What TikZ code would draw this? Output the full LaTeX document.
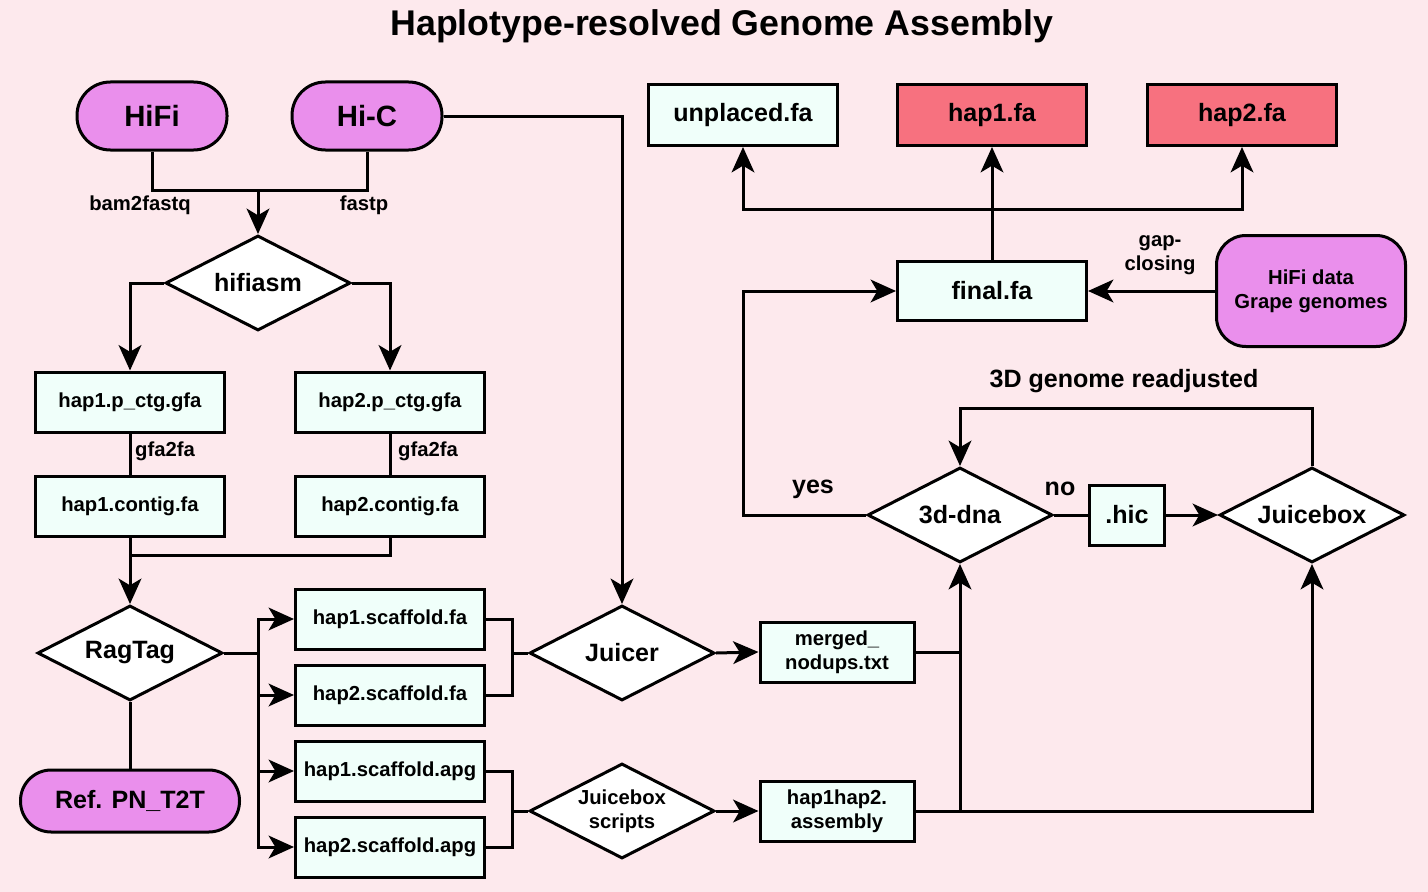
\documentclass[tikz,border=0pt]{standalone}
\usepackage{fontspec}
\setmainfont{Liberation Sans}
\usetikzlibrary{arrows.meta,shapes.geometric}
\definecolor{bgpink}{RGB}{253,233,237}
\definecolor{violetfill}{RGB}{234,143,236}
\definecolor{boxfill}{RGB}{240,255,250}
\definecolor{redfill}{RGB}{247,113,127}
\newcommand\fTitle{\fontsize{26.8pt}{30pt}\selectfont\bfseries}
\newcommand\fBig{\fontsize{22pt}{26pt}\selectfont\bfseries}
\newcommand\fMed{\fontsize{18.8pt}{22pt}\selectfont\bfseries}
\newcommand\fSm{\fontsize{15.2pt}{17.8pt}\selectfont\bfseries}
\tikzset{
  lw/.style={line width=2.25pt},
  arr/.style={lw,-{Stealth[length=19pt,width=17pt,inset=5pt]}},
  conn/.style={lw},
  filebox/.style={draw,lw,fill=boxfill,rectangle,inner sep=0pt,minimum width=141.75pt,minimum height=45pt,font=\fSm},
  bigbox/.style={filebox,font=\fMed,minimum height=45.75pt},
  redbox/.style={bigbox,fill=redfill},
  smallbox/.style={filebox,minimum width=115.5pt,align=center},
  decision/.style={draw,lw,fill=white,diamond,aspect=2,inner sep=0pt,minimum width=138.75pt,minimum height=71.25pt,font=\fMed},
  stadium/.style={draw,lw,fill=violetfill,rectangle,inner sep=0pt,minimum width=112.5pt,minimum height=51pt,rounded corners=25pt,font=\fBig},
  lbl/.style={inner sep=0pt,font=\fSm,align=center},
}
\begin{document}
\begin{tikzpicture}[x=0.75pt,y=-0.75pt]
\fill[bgpink] (0,0) rectangle (1428,892);
\useasboundingbox (0,0) rectangle (1428,892);

\node[font=\fTitle] (title) at (722,26) {Haplotype-resolved Genome Assembly};

% left column
\node[stadium] (hifi) at (152,116) {HiFi};
\node[stadium] (hic) at (367,116) {Hi-C};
\node[lbl] (lbam) at (140,205) {bam2fastq};
\node[lbl] (lfastp) at (364,205) {fastp};
\node[decision] (hifiasm) at (258,283) {hifiasm};
\node[filebox] (h1p) at (130,402) {hap1.p\_ctg.gfa};
\node[filebox] (h2p) at (390,402) {hap2.p\_ctg.gfa};
\node[lbl] (lg1) at (165,451) {gfa2fa};
\node[lbl] (lg2) at (428,451) {gfa2fa};
\node[filebox] (h1c) at (130,506) {hap1.contig.fa};
\node[filebox] (h2c) at (390,506) {hap2.contig.fa};
\node[decision] (ragtag) at (130,653) {RagTag};
\node[stadium,minimum width=164.25pt,minimum height=46.5pt,rounded corners=23pt,font=\fMed] (ref) at (130,801) {Ref. PN\_T2T};
\node[filebox] (s1) at (390,619) {hap1.scaffold.fa};
\node[filebox] (s2) at (390,695) {hap2.scaffold.fa};
\node[filebox] (a1) at (390,771) {hap1.scaffold.apg};
\node[filebox] (a2) at (390,847) {hap2.scaffold.apg};
\node[decision] (juicer) at (622,653) {Juicer};
\node[decision,font=\fSm,align=center] (scripts) at (622,811) {Juicebox\\scripts};
\node[smallbox] (merged) at (837,652) {merged\_\\nodups.txt};
\node[smallbox] (asm) at (837,811) {hap1hap2.\\assembly};

% right part
\node[decision] (dna) at (960,515) {3d-dna};
\node[filebox,font=\fMed,minimum width=56.25pt] (hicbox) at (1127,515) {.hic};
\node[decision] (juicebox) at (1312,515) {Juicebox};
\node[lbl,font=\fMed] (lre) at (1124,381) {3D genome readjusted};
\node[lbl,font=\fMed] (lno) at (1060,489) {no};
\node[lbl,font=\fMed] (lyes) at (813,489) {yes};
\node[bigbox,minimum height=44.25pt] (final) at (992,291) {final.fa};
\node[draw,lw,fill=violetfill,rectangle,inner sep=0pt,minimum width=141.75pt,minimum height=83.25pt,rounded corners=22pt,font=\fSm,align=center] (hdata) at (1311,291) {HiFi data\\Grape genomes};
\node[lbl] (lgap) at (1160,255) {gap-\\closing};
\node[bigbox] (unpl) at (743,115) {unplaced.fa};
\node[redbox] (hap1) at (992,115) {hap1.fa};
\node[redbox] (hap2) at (1242,115) {hap2.fa};

% coordinates
\coordinate (j1) at (258,190);
\coordinate (j2) at (130,555);
\coordinate (j3) at (258,653);
\coordinate (b1) at (512,653);
\coordinate (b2) at (512,811);
\coordinate (m1) at (960,652);
\coordinate (loop) at (1136,408);
\coordinate (yc) at (743,291);
\coordinate (fb) at (992,209);

% connectors
\draw[conn] (hifi.south) |- (j1) -| (hic.south);
\draw[arr] (j1) -- (hifiasm.north);
\draw[arr] (hifiasm.west) -| (h1p.north);
\draw[arr] (hifiasm.east) -| (h2p.north);
\draw[conn] (h1p.south) -- (h1c.north);
\draw[conn] (h2p.south) -- (h2c.north);
\draw[conn] (h2c.south) |- (j2);
\draw[arr] (h1c.south) -- (ragtag.north);
\draw[conn] (ragtag.south) -- (ref.north);
\draw[conn] (ragtag.east) -- (j3);
\draw[arr] (j3) |- (s1.west);
\draw[arr] (j3) |- (s2.west);
\draw[arr] (j3) |- (a1.west);
\draw[arr] (j3) |- (a2.west);
\draw[conn] (s1.east) -| (b1) |- (s2.east);
\draw[conn] (b1) -- (juicer.west);
\draw[conn] (a1.east) -| (b2) |- (a2.east);
\draw[conn] (b2) -- (scripts.west);
\draw[arr] (hic.east) -| (juicer.north);
\draw[arr] (juicer.east) -- (merged.west);
\draw[arr] (scripts.east) -- (asm.west);
\draw[conn] (merged.east) -- (m1);
\draw[arr] (asm.east) -| (juicebox.south);
\draw[arr] (dna.south |- asm.east) -- (dna.south);
\draw[conn] (dna.east) -- (hicbox.west);
\draw[arr] (hicbox.east) -- (juicebox.west);
\draw[arr] (juicebox.north) |- (loop) -| (dna.north);
\draw[arr] (dna.west) -| (yc) -- (final.west);
\draw[arr] (hdata.west) -- (final.east);
\draw[conn] (final.north) -- (fb);
\draw[arr] (fb) -| (unpl.south);
\draw[arr] (fb) -| (hap2.south);
\draw[arr] (fb) -- (hap1.south);
\end{tikzpicture}
\end{document}
